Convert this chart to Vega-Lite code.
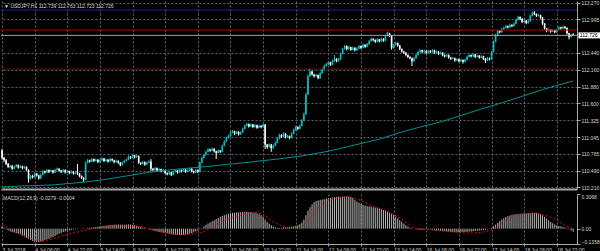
{
"$schema":"https://vega.github.io/schema/vega-lite/v6.json",
"background":"#000000",
"padding":0,
"spacing":2,
"config":{"view":{"stroke":null},"font":"Liberation Sans","axis":{"labelFont":"Liberation Sans","labelFontSize":5,"labelColor":"#d8d8d8","gridColor":"#5c6670","gridDash":[2,2],"gridWidth":1,"domainColor":"#a8a8a8","tickColor":"#a8a8a8"}},
"datasets":{
"candles":[
{"i":0,"o":110.82,"h":110.85,"l":110.67,"c":110.70,"m":0.02},
{"i":1,"o":110.70,"h":110.72,"l":110.63,"c":110.66,"m":0.01},
{"i":2,"o":110.66,"h":110.68,"l":110.58,"c":110.60,"m":-0.005},
{"i":3,"o":110.60,"h":110.62,"l":110.53,"c":110.55,"m":-0.015},
{"i":4,"o":110.55,"h":110.59,"l":110.53,"c":110.57,"m":-0.025},
{"i":5,"o":110.57,"h":110.58,"l":110.50,"c":110.52,"m":-0.03},
{"i":6,"o":110.52,"h":110.57,"l":110.51,"c":110.55,"m":-0.035},
{"i":7,"o":110.55,"h":110.60,"l":110.54,"c":110.58,"m":-0.04},
{"i":8,"o":110.58,"h":110.59,"l":110.52,"c":110.54,"m":-0.045},
{"i":9,"o":110.54,"h":110.58,"l":110.53,"c":110.56,"m":-0.05},
{"i":10,"o":110.56,"h":110.57,"l":110.51,"c":110.53,"m":-0.06},
{"i":11,"o":110.53,"h":110.57,"l":110.52,"c":110.55,"m":-0.07},
{"i":12,"o":110.55,"h":110.56,"l":110.48,"c":110.50,"m":-0.08},
{"i":13,"o":110.50,"h":110.51,"l":110.29,"c":110.36,"m":-0.09},
{"i":14,"o":110.36,"h":110.42,"l":110.34,"c":110.40,"m":-0.10},
{"i":15,"o":110.40,"h":110.42,"l":110.36,"c":110.38,"m":-0.11},
{"i":16,"o":110.38,"h":110.46,"l":110.37,"c":110.44,"m":-0.115},
{"i":17,"o":110.44,"h":110.45,"l":110.39,"c":110.41,"m":-0.12},
{"i":18,"o":110.41,"h":110.42,"l":110.34,"c":110.36,"m":-0.12},
{"i":19,"o":110.36,"h":110.44,"l":110.35,"c":110.42,"m":-0.115},
{"i":20,"o":110.42,"h":110.50,"l":110.41,"c":110.48,"m":-0.11},
{"i":21,"o":110.48,"h":110.49,"l":110.44,"c":110.46,"m":-0.10},
{"i":22,"o":110.46,"h":110.52,"l":110.45,"c":110.50,"m":-0.095},
{"i":23,"o":110.50,"h":110.51,"l":110.45,"c":110.47,"m":-0.09},
{"i":24,"o":110.47,"h":110.51,"l":110.46,"c":110.49,"m":-0.08},
{"i":25,"o":110.49,"h":110.50,"l":110.44,"c":110.46,"m":-0.075},
{"i":26,"o":110.46,"h":110.52,"l":110.45,"c":110.50,"m":-0.065},
{"i":27,"o":110.50,"h":110.54,"l":110.49,"c":110.52,"m":-0.055},
{"i":28,"o":110.52,"h":110.53,"l":110.47,"c":110.49,"m":-0.045},
{"i":29,"o":110.49,"h":110.50,"l":110.45,"c":110.47,"m":-0.04},
{"i":30,"o":110.47,"h":110.52,"l":110.46,"c":110.50,"m":-0.03},
{"i":31,"o":110.50,"h":110.51,"l":110.44,"c":110.46,"m":-0.025},
{"i":32,"o":110.46,"h":110.50,"l":110.45,"c":110.48,"m":-0.02},
{"i":33,"o":110.48,"h":110.49,"l":110.43,"c":110.45,"m":-0.015},
{"i":34,"o":110.45,"h":110.49,"l":110.44,"c":110.47,"m":-0.01},
{"i":35,"o":110.47,"h":110.48,"l":110.42,"c":110.44,"m":-0.008},
{"i":36,"o":110.44,"h":110.48,"l":110.43,"c":110.46,"m":-0.005},
{"i":37,"o":110.46,"h":110.60,"l":110.42,"c":110.44,"m":-0.003},
{"i":38,"o":110.44,"h":110.45,"l":110.38,"c":110.40,"m":0},
{"i":39,"o":110.40,"h":110.41,"l":110.35,"c":110.37,"m":0.003},
{"i":40,"o":110.37,"h":110.38,"l":110.30,"c":110.34,"m":-0.005},
{"i":41,"o":110.34,"h":110.64,"l":110.33,"c":110.62,"m":0},
{"i":42,"o":110.62,"h":110.68,"l":110.61,"c":110.66,"m":0.005},
{"i":43,"o":110.66,"h":110.67,"l":110.62,"c":110.64,"m":0.008},
{"i":44,"o":110.64,"h":110.70,"l":110.63,"c":110.68,"m":0.01},
{"i":45,"o":110.68,"h":110.69,"l":110.63,"c":110.65,"m":0.012},
{"i":46,"o":110.65,"h":110.69,"l":110.64,"c":110.67,"m":0.015},
{"i":47,"o":110.67,"h":110.68,"l":110.61,"c":110.63,"m":0.018},
{"i":48,"o":110.63,"h":110.68,"l":110.62,"c":110.66,"m":0.02},
{"i":49,"o":110.66,"h":110.71,"l":110.65,"c":110.69,"m":0.022},
{"i":50,"o":110.69,"h":110.70,"l":110.63,"c":110.65,"m":0.025},
{"i":51,"o":110.65,"h":110.69,"l":110.64,"c":110.67,"m":0.027},
{"i":52,"o":110.67,"h":110.68,"l":110.62,"c":110.64,"m":0.03},
{"i":53,"o":110.64,"h":110.70,"l":110.63,"c":110.68,"m":0.032},
{"i":54,"o":110.68,"h":110.69,"l":110.64,"c":110.66,"m":0.033},
{"i":55,"o":110.66,"h":110.67,"l":110.61,"c":110.63,"m":0.035},
{"i":56,"o":110.63,"h":110.67,"l":110.62,"c":110.65,"m":0.036},
{"i":57,"o":110.65,"h":110.66,"l":110.60,"c":110.62,"m":0.037},
{"i":58,"o":110.62,"h":110.63,"l":110.56,"c":110.58,"m":0.036},
{"i":59,"o":110.58,"h":110.64,"l":110.57,"c":110.62,"m":0.035},
{"i":60,"o":110.62,"h":110.67,"l":110.61,"c":110.65,"m":0.035},
{"i":61,"o":110.65,"h":110.69,"l":110.64,"c":110.67,"m":0.036},
{"i":62,"o":110.67,"h":110.74,"l":110.66,"c":110.72,"m":0.037},
{"i":63,"o":110.72,"h":110.73,"l":110.68,"c":110.70,"m":0.036},
{"i":64,"o":110.70,"h":110.76,"l":110.69,"c":110.74,"m":0.034},
{"i":65,"o":110.74,"h":110.75,"l":110.69,"c":110.71,"m":0.03},
{"i":66,"o":110.71,"h":110.75,"l":110.70,"c":110.73,"m":0.025},
{"i":67,"o":110.73,"h":110.74,"l":110.60,"c":110.62,"m":0.02},
{"i":68,"o":110.62,"h":110.63,"l":110.58,"c":110.60,"m":0.015},
{"i":69,"o":110.60,"h":110.65,"l":110.59,"c":110.63,"m":0.01},
{"i":70,"o":110.63,"h":110.64,"l":110.57,"c":110.59,"m":0.005},
{"i":71,"o":110.59,"h":110.64,"l":110.58,"c":110.62,"m":0},
{"i":72,"o":110.62,"h":110.66,"l":110.61,"c":110.64,"m":-0.005},
{"i":73,"o":110.64,"h":110.68,"l":110.48,"c":110.52,"m":-0.01},
{"i":74,"o":110.52,"h":110.53,"l":110.48,"c":110.50,"m":-0.015},
{"i":75,"o":110.50,"h":110.55,"l":110.49,"c":110.53,"m":-0.02},
{"i":76,"o":110.53,"h":110.54,"l":110.47,"c":110.49,"m":-0.025},
{"i":77,"o":110.49,"h":110.53,"l":110.48,"c":110.51,"m":-0.03},
{"i":78,"o":110.51,"h":110.52,"l":110.46,"c":110.48,"m":-0.033},
{"i":79,"o":110.48,"h":110.52,"l":110.47,"c":110.50,"m":-0.036},
{"i":80,"o":110.50,"h":110.51,"l":110.43,"c":110.45,"m":-0.04},
{"i":81,"o":110.45,"h":110.46,"l":110.41,"c":110.43,"m":-0.043},
{"i":82,"o":110.43,"h":110.48,"l":110.42,"c":110.46,"m":-0.046},
{"i":83,"o":110.46,"h":110.47,"l":110.40,"c":110.42,"m":-0.05},
{"i":84,"o":110.42,"h":110.49,"l":110.41,"c":110.47,"m":-0.052},
{"i":85,"o":110.47,"h":110.51,"l":110.46,"c":110.49,"m":-0.054},
{"i":86,"o":110.49,"h":110.50,"l":110.44,"c":110.46,"m":-0.055},
{"i":87,"o":110.46,"h":110.52,"l":110.45,"c":110.50,"m":-0.056},
{"i":88,"o":110.50,"h":110.51,"l":110.46,"c":110.48,"m":-0.056},
{"i":89,"o":110.48,"h":110.53,"l":110.47,"c":110.51,"m":-0.055},
{"i":90,"o":110.51,"h":110.52,"l":110.45,"c":110.47,"m":-0.053},
{"i":91,"o":110.47,"h":110.51,"l":110.46,"c":110.49,"m":-0.05},
{"i":92,"o":110.49,"h":110.54,"l":110.48,"c":110.52,"m":-0.045},
{"i":93,"o":110.52,"h":110.53,"l":110.46,"c":110.48,"m":-0.04},
{"i":94,"o":110.48,"h":110.49,"l":110.44,"c":110.46,"m":-0.032},
{"i":95,"o":110.46,"h":110.52,"l":110.45,"c":110.50,"m":-0.024},
{"i":96,"o":110.50,"h":110.51,"l":110.45,"c":110.47,"m":-0.015},
{"i":97,"o":110.47,"h":110.64,"l":110.46,"c":110.62,"m":-0.006},
{"i":98,"o":110.62,"h":110.72,"l":110.61,"c":110.70,"m":0.005},
{"i":99,"o":110.70,"h":110.77,"l":110.69,"c":110.75,"m":0.02},
{"i":100,"o":110.75,"h":110.82,"l":110.74,"c":110.80,"m":0.035},
{"i":101,"o":110.80,"h":110.86,"l":110.79,"c":110.84,"m":0.045},
{"i":102,"o":110.84,"h":110.85,"l":110.80,"c":110.82,"m":0.055},
{"i":103,"o":110.82,"h":110.87,"l":110.81,"c":110.85,"m":0.065},
{"i":104,"o":110.85,"h":110.86,"l":110.79,"c":110.81,"m":0.075},
{"i":105,"o":110.81,"h":110.82,"l":110.68,"c":110.78,"m":0.085},
{"i":106,"o":110.78,"h":110.84,"l":110.77,"c":110.82,"m":0.095},
{"i":107,"o":110.82,"h":110.83,"l":110.78,"c":110.80,"m":0.105},
{"i":108,"o":110.80,"h":110.92,"l":110.79,"c":110.90,"m":0.112},
{"i":109,"o":110.90,"h":110.99,"l":110.89,"c":110.97,"m":0.12},
{"i":110,"o":110.97,"h":111.05,"l":110.96,"c":111.03,"m":0.126},
{"i":111,"o":111.03,"h":111.08,"l":111.02,"c":111.06,"m":0.132},
{"i":112,"o":111.06,"h":111.14,"l":111.05,"c":111.12,"m":0.136},
{"i":113,"o":111.12,"h":111.16,"l":111.11,"c":111.14,"m":0.14},
{"i":114,"o":111.14,"h":111.15,"l":111.08,"c":111.10,"m":0.142},
{"i":115,"o":111.10,"h":111.15,"l":111.09,"c":111.13,"m":0.144},
{"i":116,"o":111.13,"h":111.14,"l":111.07,"c":111.09,"m":0.145},
{"i":117,"o":111.09,"h":111.14,"l":111.08,"c":111.12,"m":0.146},
{"i":118,"o":111.12,"h":111.20,"l":111.11,"c":111.18,"m":0.148},
{"i":119,"o":111.18,"h":111.25,"l":111.17,"c":111.23,"m":0.15},
{"i":120,"o":111.23,"h":111.28,"l":111.22,"c":111.26,"m":0.15},
{"i":121,"o":111.26,"h":111.27,"l":111.20,"c":111.22,"m":0.148},
{"i":122,"o":111.22,"h":111.27,"l":111.21,"c":111.25,"m":0.146},
{"i":123,"o":111.25,"h":111.26,"l":111.19,"c":111.21,"m":0.144},
{"i":124,"o":111.21,"h":111.26,"l":111.20,"c":111.24,"m":0.14},
{"i":125,"o":111.24,"h":111.25,"l":111.18,"c":111.20,"m":0.135},
{"i":126,"o":111.20,"h":111.25,"l":111.19,"c":111.23,"m":0.13},
{"i":127,"o":111.23,"h":111.24,"l":111.19,"c":111.21,"m":0.12},
{"i":128,"o":111.21,"h":111.27,"l":111.20,"c":111.25,"m":0.105},
{"i":129,"o":111.25,"h":111.26,"l":110.85,"c":110.92,"m":0.08},
{"i":130,"o":110.92,"h":110.93,"l":110.85,"c":110.88,"m":0.06},
{"i":131,"o":110.88,"h":110.94,"l":110.87,"c":110.92,"m":0.045},
{"i":132,"o":110.92,"h":110.93,"l":110.80,"c":110.86,"m":0.03},
{"i":133,"o":110.86,"h":110.92,"l":110.85,"c":110.90,"m":0.02},
{"i":134,"o":110.90,"h":110.97,"l":110.89,"c":110.95,"m":0.012},
{"i":135,"o":110.95,"h":111.04,"l":110.94,"c":111.02,"m":0.008},
{"i":136,"o":111.02,"h":111.10,"l":111.01,"c":111.08,"m":0.006},
{"i":137,"o":111.08,"h":111.09,"l":111.03,"c":111.05,"m":0.006},
{"i":138,"o":111.05,"h":111.12,"l":111.04,"c":111.10,"m":0.01},
{"i":139,"o":111.10,"h":111.11,"l":111.02,"c":111.04,"m":0.012},
{"i":140,"o":111.04,"h":111.08,"l":111.03,"c":111.06,"m":0.012},
{"i":141,"o":111.06,"h":111.07,"l":111.01,"c":111.03,"m":0.015},
{"i":142,"o":111.03,"h":111.12,"l":111.02,"c":111.10,"m":0.018},
{"i":143,"o":111.10,"h":111.18,"l":111.09,"c":111.16,"m":0.02},
{"i":144,"o":111.16,"h":111.23,"l":111.15,"c":111.21,"m":0.025},
{"i":145,"o":111.21,"h":111.22,"l":111.16,"c":111.18,"m":0.03},
{"i":146,"o":111.18,"h":111.25,"l":111.17,"c":111.23,"m":0.04},
{"i":147,"o":111.23,"h":111.34,"l":111.22,"c":111.32,"m":0.055},
{"i":148,"o":111.32,"h":111.45,"l":111.31,"c":111.42,"m":0.08},
{"i":149,"o":111.42,"h":111.78,"l":111.41,"c":111.75,"m":0.12},
{"i":150,"o":111.75,"h":112.08,"l":111.74,"c":112.05,"m":0.16},
{"i":151,"o":112.05,"h":112.18,"l":112.04,"c":112.13,"m":0.19},
{"i":152,"o":112.13,"h":112.14,"l":112.06,"c":112.08,"m":0.215},
{"i":153,"o":112.08,"h":112.09,"l":112.03,"c":112.05,"m":0.235},
{"i":154,"o":112.05,"h":112.09,"l":112.04,"c":112.07,"m":0.245},
{"i":155,"o":112.07,"h":112.08,"l":112.00,"c":112.02,"m":0.25},
{"i":156,"o":112.02,"h":112.12,"l":112.01,"c":112.10,"m":0.255},
{"i":157,"o":112.10,"h":112.18,"l":112.09,"c":112.16,"m":0.258},
{"i":158,"o":112.16,"h":112.24,"l":112.15,"c":112.22,"m":0.26},
{"i":159,"o":112.22,"h":112.27,"l":112.21,"c":112.25,"m":0.265},
{"i":160,"o":112.25,"h":112.30,"l":112.24,"c":112.28,"m":0.27},
{"i":161,"o":112.28,"h":112.29,"l":112.22,"c":112.24,"m":0.272},
{"i":162,"o":112.24,"h":112.32,"l":112.23,"c":112.30,"m":0.275},
{"i":163,"o":112.30,"h":112.40,"l":112.29,"c":112.34,"m":0.278},
{"i":164,"o":112.34,"h":112.35,"l":112.28,"c":112.30,"m":0.28},
{"i":165,"o":112.30,"h":112.35,"l":112.29,"c":112.33,"m":0.282},
{"i":166,"o":112.33,"h":112.44,"l":112.32,"c":112.42,"m":0.283},
{"i":167,"o":112.42,"h":112.52,"l":112.41,"c":112.50,"m":0.284},
{"i":168,"o":112.50,"h":112.57,"l":112.49,"c":112.55,"m":0.285},
{"i":169,"o":112.55,"h":112.56,"l":112.48,"c":112.50,"m":0.284},
{"i":170,"o":112.50,"h":112.55,"l":112.49,"c":112.53,"m":0.282},
{"i":171,"o":112.53,"h":112.54,"l":112.47,"c":112.49,"m":0.28},
{"i":172,"o":112.49,"h":112.54,"l":112.48,"c":112.52,"m":0.27},
{"i":173,"o":112.52,"h":112.53,"l":112.46,"c":112.48,"m":0.255},
{"i":174,"o":112.48,"h":112.53,"l":112.47,"c":112.51,"m":0.24},
{"i":175,"o":112.51,"h":112.57,"l":112.50,"c":112.55,"m":0.23},
{"i":176,"o":112.55,"h":112.56,"l":112.50,"c":112.52,"m":0.22},
{"i":177,"o":112.52,"h":112.59,"l":112.51,"c":112.57,"m":0.21},
{"i":178,"o":112.57,"h":112.58,"l":112.52,"c":112.54,"m":0.205},
{"i":179,"o":112.54,"h":112.60,"l":112.53,"c":112.58,"m":0.2},
{"i":180,"o":112.58,"h":112.65,"l":112.57,"c":112.63,"m":0.198},
{"i":181,"o":112.63,"h":112.69,"l":112.62,"c":112.67,"m":0.195},
{"i":182,"o":112.67,"h":112.68,"l":112.63,"c":112.65,"m":0.19},
{"i":183,"o":112.65,"h":112.66,"l":112.60,"c":112.62,"m":0.187},
{"i":184,"o":112.62,"h":112.68,"l":112.61,"c":112.66,"m":0.183},
{"i":185,"o":112.66,"h":112.67,"l":112.61,"c":112.63,"m":0.178},
{"i":186,"o":112.63,"h":112.69,"l":112.62,"c":112.67,"m":0.172},
{"i":187,"o":112.67,"h":112.68,"l":112.62,"c":112.64,"m":0.165},
{"i":188,"o":112.64,"h":112.74,"l":112.63,"c":112.72,"m":0.158},
{"i":189,"o":112.72,"h":112.79,"l":112.71,"c":112.76,"m":0.15},
{"i":190,"o":112.76,"h":112.77,"l":112.70,"c":112.72,"m":0.14},
{"i":191,"o":112.72,"h":112.73,"l":112.49,"c":112.52,"m":0.13},
{"i":192,"o":112.52,"h":112.59,"l":112.51,"c":112.57,"m":0.12},
{"i":193,"o":112.57,"h":112.62,"l":112.56,"c":112.60,"m":0.105},
{"i":194,"o":112.60,"h":112.61,"l":112.54,"c":112.56,"m":0.09},
{"i":195,"o":112.56,"h":112.57,"l":112.48,"c":112.50,"m":0.075},
{"i":196,"o":112.50,"h":112.51,"l":112.44,"c":112.46,"m":0.06},
{"i":197,"o":112.46,"h":112.47,"l":112.42,"c":112.44,"m":0.045},
{"i":198,"o":112.44,"h":112.45,"l":112.38,"c":112.40,"m":0.03},
{"i":199,"o":112.40,"h":112.41,"l":112.35,"c":112.37,"m":0.02},
{"i":200,"o":112.37,"h":112.38,"l":112.33,"c":112.35,"m":0.01},
{"i":201,"o":112.35,"h":112.36,"l":112.22,"c":112.30,"m":0.005},
{"i":202,"o":112.30,"h":112.37,"l":112.29,"c":112.35,"m":0},
{"i":203,"o":112.35,"h":112.42,"l":112.34,"c":112.40,"m":-0.005},
{"i":204,"o":112.40,"h":112.47,"l":112.39,"c":112.45,"m":-0.008},
{"i":205,"o":112.45,"h":112.50,"l":112.44,"c":112.48,"m":-0.01},
{"i":206,"o":112.48,"h":112.49,"l":112.43,"c":112.45,"m":-0.01},
{"i":207,"o":112.45,"h":112.49,"l":112.44,"c":112.47,"m":-0.008},
{"i":208,"o":112.47,"h":112.48,"l":112.42,"c":112.44,"m":-0.006},
{"i":209,"o":112.44,"h":112.49,"l":112.43,"c":112.47,"m":-0.005},
{"i":210,"o":112.47,"h":112.48,"l":112.43,"c":112.45,"m":-0.006},
{"i":211,"o":112.45,"h":112.50,"l":112.44,"c":112.48,"m":-0.008},
{"i":212,"o":112.48,"h":112.49,"l":112.42,"c":112.44,"m":-0.01},
{"i":213,"o":112.44,"h":112.48,"l":112.43,"c":112.46,"m":-0.012},
{"i":214,"o":112.46,"h":112.47,"l":112.40,"c":112.42,"m":-0.015},
{"i":215,"o":112.42,"h":112.46,"l":112.41,"c":112.44,"m":-0.018},
{"i":216,"o":112.44,"h":112.45,"l":112.38,"c":112.40,"m":-0.02},
{"i":217,"o":112.40,"h":112.41,"l":112.36,"c":112.38,"m":-0.022},
{"i":218,"o":112.38,"h":112.42,"l":112.37,"c":112.40,"m":-0.024},
{"i":219,"o":112.40,"h":112.41,"l":112.34,"c":112.36,"m":-0.026},
{"i":220,"o":112.36,"h":112.37,"l":112.32,"c":112.34,"m":-0.028},
{"i":221,"o":112.34,"h":112.37,"l":112.33,"c":112.35,"m":-0.03},
{"i":222,"o":112.35,"h":112.36,"l":112.29,"c":112.31,"m":-0.031},
{"i":223,"o":112.31,"h":112.35,"l":112.30,"c":112.33,"m":-0.032},
{"i":224,"o":112.33,"h":112.34,"l":112.28,"c":112.30,"m":-0.032},
{"i":225,"o":112.30,"h":112.34,"l":112.29,"c":112.32,"m":-0.031},
{"i":226,"o":112.32,"h":112.33,"l":112.26,"c":112.29,"m":-0.03},
{"i":227,"o":112.29,"h":112.34,"l":112.28,"c":112.32,"m":-0.029},
{"i":228,"o":112.32,"h":112.39,"l":112.31,"c":112.37,"m":-0.028},
{"i":229,"o":112.37,"h":112.42,"l":112.36,"c":112.40,"m":-0.027},
{"i":230,"o":112.40,"h":112.41,"l":112.36,"c":112.38,"m":-0.025},
{"i":231,"o":112.38,"h":112.43,"l":112.37,"c":112.41,"m":-0.023},
{"i":232,"o":112.41,"h":112.42,"l":112.35,"c":112.37,"m":-0.021},
{"i":233,"o":112.37,"h":112.41,"l":112.36,"c":112.39,"m":-0.019},
{"i":234,"o":112.39,"h":112.40,"l":112.34,"c":112.36,"m":-0.017},
{"i":235,"o":112.36,"h":112.40,"l":112.35,"c":112.38,"m":-0.015},
{"i":236,"o":112.38,"h":112.39,"l":112.32,"c":112.34,"m":-0.013},
{"i":237,"o":112.34,"h":112.35,"l":112.27,"c":112.31,"m":-0.01},
{"i":238,"o":112.31,"h":112.37,"l":112.30,"c":112.35,"m":-0.006},
{"i":239,"o":112.35,"h":112.36,"l":112.31,"c":112.33,"m":-0.002},
{"i":240,"o":112.33,"h":112.47,"l":112.32,"c":112.45,"m":0.005},
{"i":241,"o":112.45,"h":112.64,"l":112.44,"c":112.62,"m":0.02},
{"i":242,"o":112.62,"h":112.75,"l":112.61,"c":112.72,"m":0.035},
{"i":243,"o":112.72,"h":112.82,"l":112.71,"c":112.80,"m":0.05},
{"i":244,"o":112.80,"h":112.81,"l":112.76,"c":112.78,"m":0.065},
{"i":245,"o":112.78,"h":112.85,"l":112.77,"c":112.83,"m":0.08},
{"i":246,"o":112.83,"h":112.87,"l":112.82,"c":112.85,"m":0.092},
{"i":247,"o":112.85,"h":112.90,"l":112.84,"c":112.88,"m":0.102},
{"i":248,"o":112.88,"h":112.89,"l":112.84,"c":112.86,"m":0.11},
{"i":249,"o":112.86,"h":112.92,"l":112.85,"c":112.90,"m":0.117},
{"i":250,"o":112.90,"h":112.91,"l":112.86,"c":112.88,"m":0.122},
{"i":251,"o":112.88,"h":112.94,"l":112.87,"c":112.92,"m":0.126},
{"i":252,"o":112.92,"h":113.00,"l":112.91,"c":112.98,"m":0.128},
{"i":253,"o":112.98,"h":113.05,"l":112.97,"c":113.03,"m":0.13},
{"i":254,"o":113.03,"h":113.04,"l":112.98,"c":113.00,"m":0.132},
{"i":255,"o":113.00,"h":113.01,"l":112.93,"c":112.95,"m":0.134},
{"i":256,"o":112.95,"h":112.99,"l":112.94,"c":112.97,"m":0.135},
{"i":257,"o":112.97,"h":112.98,"l":112.91,"c":112.93,"m":0.136},
{"i":258,"o":112.93,"h":112.98,"l":112.92,"c":112.96,"m":0.137},
{"i":259,"o":112.96,"h":113.07,"l":112.95,"c":113.05,"m":0.138},
{"i":260,"o":113.05,"h":113.12,"l":113.04,"c":113.10,"m":0.14},
{"i":261,"o":113.10,"h":113.13,"l":113.06,"c":113.08,"m":0.141},
{"i":262,"o":113.08,"h":113.09,"l":113.03,"c":113.05,"m":0.14},
{"i":263,"o":113.05,"h":113.08,"l":113.04,"c":113.06,"m":0.135},
{"i":264,"o":113.06,"h":113.07,"l":113.00,"c":113.02,"m":0.128},
{"i":265,"o":113.02,"h":113.03,"l":112.90,"c":112.92,"m":0.118},
{"i":266,"o":112.92,"h":112.93,"l":112.82,"c":112.84,"m":0.105},
{"i":267,"o":112.84,"h":112.85,"l":112.78,"c":112.80,"m":0.09},
{"i":268,"o":112.80,"h":112.84,"l":112.79,"c":112.82,"m":0.075},
{"i":269,"o":112.82,"h":112.83,"l":112.77,"c":112.79,"m":0.06},
{"i":270,"o":112.79,"h":112.83,"l":112.78,"c":112.81,"m":0.048},
{"i":271,"o":112.81,"h":112.82,"l":112.76,"c":112.78,"m":0.038},
{"i":272,"o":112.78,"h":112.84,"l":112.77,"c":112.82,"m":0.03},
{"i":273,"o":112.82,"h":112.88,"l":112.81,"c":112.86,"m":0.024},
{"i":274,"o":112.86,"h":112.87,"l":112.82,"c":112.84,"m":0.02},
{"i":275,"o":112.84,"h":112.89,"l":112.83,"c":112.87,"m":0.016},
{"i":276,"o":112.87,"h":112.88,"l":112.83,"c":112.85,"m":0.01},
{"i":277,"o":112.85,"h":112.86,"l":112.74,"c":112.76,"m":0.004},
{"i":278,"o":112.76,"h":112.77,"l":112.66,"c":112.70,"m":-0.005},
{"i":279,"o":112.70,"h":112.75,"l":112.69,"c":112.739,"m":-0.015},
{"i":280,"o":112.739,"h":112.763,"l":112.723,"c":112.726,"m":-0.0279}
],
"ma":[
{"b":0,"v":110.219},{"b":10,"v":110.235},{"b":25,"v":110.252},{"b":41,"v":110.301},{"b":50,"v":110.34},{"b":58,"v":110.384},{"b":73,"v":110.467},{"b":85,"v":110.51},{"b":98,"v":110.549},{"b":110,"v":110.59},{"b":122,"v":110.632},{"b":135,"v":110.68},{"b":147,"v":110.731},{"b":160,"v":110.81},{"b":171,"v":110.897},{"b":185,"v":111.01},{"b":196,"v":111.128},{"b":205,"v":111.21},{"b":215,"v":111.294},{"b":225,"v":111.40},{"b":235,"v":111.509},{"b":245,"v":111.61},{"b":254,"v":111.707},{"b":265,"v":111.83},{"b":280,"v":111.972}
],
"sig":[
{"b":0,"s":0.037},{"b":6,"s":-0.02},{"b":13,"s":-0.08},{"b":19,"s":-0.115},{"b":25,"s":-0.09},{"b":32,"s":-0.05},{"b":42,"s":-0.01},{"b":49,"s":0.015},{"b":58,"s":0.025},{"b":68,"s":0.02},{"b":75,"s":-0.015},{"b":83,"s":-0.045},{"b":88,"s":-0.055},{"b":98,"s":-0.035},{"b":104,"s":0.02},{"b":111,"s":0.09},{"b":121,"s":0.14},{"b":124,"s":0.144},{"b":128,"s":0.13},{"b":132,"s":0.07},{"b":137,"s":0.025},{"b":140,"s":0.005},{"b":147,"s":0.015},{"b":150,"s":0.06},{"b":153,"s":0.14},{"b":156,"s":0.2},{"b":160,"s":0.255},{"b":170,"s":0.286},{"b":176,"s":0.25},{"b":182,"s":0.2},{"b":189,"s":0.155},{"b":194,"s":0.105},{"b":199,"s":0.045},{"b":202,"s":0.005},{"b":212,"s":-0.015},{"b":219,"s":-0.025},{"b":225,"s":-0.035},{"b":228,"s":-0.04},{"b":235,"s":-0.035},{"b":240,"s":-0.012},{"b":245,"s":0.045},{"b":248,"s":0.09},{"b":254,"s":0.125},{"b":261,"s":0.138},{"b":268,"s":0.11},{"b":273,"s":0.065},{"b":277,"s":0.02},{"b":280,"s":-0.0004}
],
"levels":[
{"lv":113.146,"kind":"blue"},{"lv":112.815,"kind":"red"},{"lv":112.165,"kind":"red"}
]
},
"vconcat":[
{
"width":576,"height":188,
"data":{"name":"candles"},
"encoding":{
"x":{"field":"i","type":"quantitative","scale":{"domain":[-0.5,281.9],"nice":false,"zero":false},"axis":{"values":[0,16,32,48,64,80,96,112,128,144,160,176,192,208,224,240,256,272],"grid":true,"labels":false,"ticks":false,"domain":true,"domainWidth":2,"title":null}},
"y":{"field":"l","type":"quantitative","scale":{"domain":[110.185,113.295],"nice":false,"zero":false},"axis":{"orient":"right","values":[110.21,110.49,110.765,111.045,111.325,111.6,111.88,112.16,112.44,112.995,113.27],"format":".3f","grid":true,"tickSize":3,"labelPadding":1,"labelFlush":true,"title":null}}
},
"layer":[
{"mark":{"type":"rule","strokeWidth":1},"encoding":{
"y2":{"field":"h"},
"color":{"condition":{"test":"datum.c > datum.o","value":"#00c4c4"},"value":"#ffffff"}}},
{"mark":{"type":"rule","strokeWidth":1.6},"encoding":{
"y":{"field":"o","type":"quantitative"},
"y2":{"field":"c"},
"color":{"condition":{"test":"datum.c > datum.o","value":"#00c4c4"},"value":"#ffffff"}}},
{"data":{"name":"ma"},"mark":{"type":"line","color":"#009090","strokeWidth":1},"encoding":{
"x":{"field":"b","type":"quantitative"},
"y":{"field":"v","type":"quantitative"}}},
{"data":{"values":[{"lv":113.146}]},"mark":{"type":"rule","color":"#1c1ca8","strokeWidth":1},"encoding":{"x":null,"y":{"field":"lv","type":"quantitative"}}},
{"data":{"values":[{"lv":112.815}]},"mark":{"type":"rule","color":"#b00000","strokeWidth":1},"encoding":{"x":null,"y":{"field":"lv","type":"quantitative"}}},
{"data":{"values":[{"lv":112.168}]},"mark":{"type":"rule","color":"#d00000","strokeWidth":1,"strokeDash":[1,1]},"encoding":{"x":null,"y":{"field":"lv","type":"quantitative"}}},
{"data":{"values":[{"lv":112.726}]},"mark":{"type":"rule","color":"#a0a0a0","strokeWidth":1},"encoding":{"x":null,"y":{"field":"lv","type":"quantitative"}}},
{"data":{"name":"levels"},"mark":{"type":"square","size":9,"opacity":1,"clip":false},"encoding":{
"x":{"datum":0.3},
"y":{"field":"lv","type":"quantitative"},
"color":{"condition":{"test":"datum.kind == 'blue'","value":"#3a3aff"},"value":"#ff3a3a"}}},
{"data":{"name":"levels"},"mark":{"type":"square","size":9,"opacity":1,"clip":false},"encoding":{
"x":{"datum":282.4},
"y":{"field":"lv","type":"quantitative"},
"color":{"condition":{"test":"datum.kind == 'blue'","value":"#3a3aff"},"value":"#ff3a3a"}}},
{"data":{"values":[{"t":"▼ USDJPY,H1 112.739 112.763 112.723 112.726","tx":1,"ty":113.22}]},"mark":{"type":"text","align":"left","baseline":"middle","fontSize":5,"color":"#d8d8d8"},"encoding":{
"x":{"field":"tx","type":"quantitative"},
"y":{"field":"ty","type":"quantitative"},
"text":{"field":"t"}}},
{"data":{"values":[{"bx":282.6,"bx2":294,"by":112.776,"by2":112.676,"t":"112.726","tx":283.3}]},"layer":[
{"mark":{"type":"rect","color":"#ffffff","clip":false},"encoding":{
"x":{"field":"bx","type":"quantitative"},"x2":{"field":"bx2"},
"y":{"field":"by","type":"quantitative"},"y2":{"field":"by2"}}},
{"mark":{"type":"text","align":"left","baseline":"middle","fontSize":5,"color":"#000000","clip":false},"encoding":{
"x":{"field":"tx","type":"quantitative"},
"y":{"field":"t","type":"quantitative"},
"text":{"field":"t"}}}
]}
]
},
{
"width":576,"height":50,
"data":{"name":"candles"},
"encoding":{
"x":{"field":"i","type":"quantitative","scale":{"domain":[-0.5,281.9],"nice":false,"zero":false},"axis":{"values":[0,16,32,48,64,80,96,112,128,144,160,176,192,208,224,240,256,272],"grid":true,"labelExpr":"['3 Jul 2018','4 Jul 06:00','4 Jul 22:00','5 Jul 14:00','6 Jul 06:00','6 Jul 22:00','9 Jul 14:00','10 Jul 06:00','10 Jul 22:00','11 Jul 14:00','12 Jul 06:00','12 Jul 22:00','13 Jul 14:00','16 Jul 06:00','16 Jul 22:00','17 Jul 14:00','18 Jul 06:00','18 Jul 22:00'][round(datum.value/16)]","labelAlign":"left","labelPadding":1,"labelOverlap":false,"labelFlush":false,"tickSize":2,"domain":true,"title":null}},
"y":{"field":"m","type":"quantitative","scale":{"domain":[-0.1358,0.3068],"nice":false,"zero":false},"axis":{"orient":"right","values":[-0.1358,0,0.3068],"labelExpr":"datum.value == 0 ? '0.00' : format(datum.value, '.4f')","grid":false,"tickSize":3,"labelFlush":true,"labelPadding":1,"title":null}}
},
"layer":[
{"data":{"name":"candles"},"mark":{"type":"rule","color":"#b8b8b8","strokeWidth":1},"encoding":{"y2":{"datum":0}}},
{"data":{"name":"sig"},"mark":{"type":"line","color":"#e01010","strokeWidth":1,"strokeDash":[2,2]},"encoding":{
"x":{"field":"b","type":"quantitative"},
"y":{"field":"s","type":"quantitative"}}},
{"data":{"values":[{"t":"MACD(12,26,9) -0.0279 -0.0004","tx":0.5,"ty":0.272}]},"mark":{"type":"text","align":"left","baseline":"middle","fontSize":5,"color":"#d8d8d8"},"encoding":{
"x":{"field":"tx","type":"quantitative"},
"y":{"field":"ty","type":"quantitative"},
"text":{"field":"t"}}}
]
}
]
}
